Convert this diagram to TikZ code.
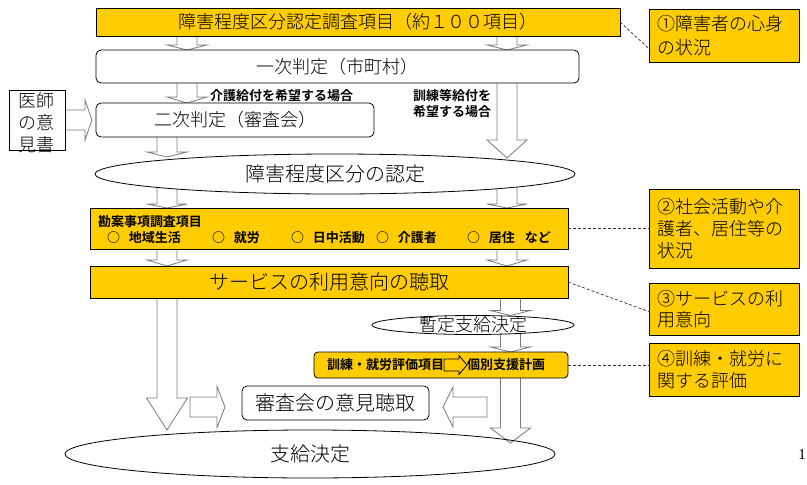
\documentclass[tikz,border=0pt]{standalone}
\usepackage{fontspec}
\setmainfont{Noto Sans CJK JP Light}[BoldFont={Noto Sans CJK JP Bold}]
\newfontfamily\pagefont{Liberation Serif}
\usetikzlibrary{calc,shapes.geometric}
\pgfdeclarelayer{bg}
\pgfsetlayers{bg,main}
\definecolor{myyellow}{HTML}{FFCC00}
\definecolor{agray}{HTML}{7A7A7A}
\begin{document}
\begin{tikzpicture}[x=1pt,y=-1pt]
\tikzset{
  every node/.style={inner sep=0pt, outer sep=0pt},
  yb/.style={draw, line width=0.8pt, fill=myyellow},
  rb/.style={draw, line width=0.8pt, fill=white, rounded corners=5pt},
  ell/.style={ellipse, draw, line width=0.8pt},
  note/.style={yb, minimum width=150pt, inner xsep=8pt, text width=134pt, align=left},
  bold13/.style={font=\bfseries\fontsize{13}{13}\selectfont},
  item/.style={bold13, anchor=west},
  barrow/.style={draw=agray, fill=white, line width=0.8pt, line join=miter},
  dashln/.style={draw=black!80, line width=0.7pt, dash pattern=on 3pt off 2pt},
  bsw/.initial=10pt, bhw/.initial=20pt,
  bdown/.style={barrow, to path={let \p1=(\tikztostart), \p2=(\tikztotarget) in
     (\x1-\pgfkeysvalueof{/tikz/bsw},\y1) -- (\x1+\pgfkeysvalueof{/tikz/bsw},\y1)
     -- (\x1+\pgfkeysvalueof{/tikz/bsw},\y2+#1pt) -- (\x1+\pgfkeysvalueof{/tikz/bhw},\y2+#1pt)
     -- (\x1,\y2) -- (\x1-\pgfkeysvalueof{/tikz/bhw},\y2+#1pt)
     -- (\x1-\pgfkeysvalueof{/tikz/bsw},\y2+#1pt) -- cycle}},
  bright/.style={barrow, to path={let \p1=(\tikztostart), \p2=(\tikztotarget) in
     (\x1,\y1+\pgfkeysvalueof{/tikz/bsw}) -- (\x2-#1pt,\y1+\pgfkeysvalueof{/tikz/bsw})
     -- (\x2-#1pt,\y1+\pgfkeysvalueof{/tikz/bhw}) -- (\x2,\y1)
     -- (\x2-#1pt,\y1-\pgfkeysvalueof{/tikz/bhw}) -- (\x2-#1pt,\y1-\pgfkeysvalueof{/tikz/bsw})
     -- (\x1,\y1-\pgfkeysvalueof{/tikz/bsw}) -- cycle}},
  bleft/.style={barrow, to path={let \p1=(\tikztostart), \p2=(\tikztotarget) in
     (\x1,\y1+\pgfkeysvalueof{/tikz/bsw}) -- (\x2+#1pt,\y1+\pgfkeysvalueof{/tikz/bsw})
     -- (\x2+#1pt,\y1+\pgfkeysvalueof{/tikz/bhw}) -- (\x2,\y1)
     -- (\x2+#1pt,\y1-\pgfkeysvalueof{/tikz/bhw}) -- (\x2+#1pt,\y1-\pgfkeysvalueof{/tikz/bsw})
     -- (\x1,\y1-\pgfkeysvalueof{/tikz/bsw}) -- cycle}},
}
\useasboundingbox (0,0) rectangle (807,485);

% ---------- nodes ----------
\node[yb, minimum width=524pt, minimum height=28pt, font=\fontsize{18}{18}\selectfont] (top) at (358,22) {障害程度区分認定調査項目（約１００項目）};
\node[note, minimum height=53pt, font=\fontsize{18}{24}\selectfont] (n1) at (724,35.5) {①障害者の心身\\の状況};
\node[rb, minimum width=483pt, minimum height=33pt, font=\fontsize{18}{18}\selectfont] (ichiji) at (337.5,66.5) {一次判定（市町村）};
\node[rb, minimum width=278pt, minimum height=34pt, font=\fontsize{18}{18}\selectfont] (niji) at (235,120) {二次判定（審査会）};
\node[draw, line width=0.8pt, fill=white, minimum width=56pt, minimum height=60pt,
  label={[font=\fontsize{18}{22}\selectfont, align=center, yshift=-2.5pt]center:医師\\の意\\見書}] (ishi) at (37,120) {};
\node[bold13, anchor=west] (lk) at (210,96) {介護給付を希望する場合};
\node[font=\bfseries\fontsize{13}{16}\selectfont, align=left] (lt) at (452,104) {訓練等給付を\\希望する場合};
\node[ell, fill=white, minimum width=480pt, minimum height=40pt, font=\fontsize{20}{20}\selectfont] (e1) at (335,174) {障害程度区分の認定};

\node[yb, minimum width=478pt, minimum height=41pt] (kanan) at (329,228.5) {};
\node[item] (kh) at (98,221.5) {勘案事項調査項目};
\node[item] (k1) at (107,238) {○\hspace{9pt}地域生活};
\node[item] (k2) at (212,238) {○\hspace{9pt}就労};
\node[item] (k3) at (291,238) {○\hspace{9pt}日中活動};
\node[item] (k4) at (376,238) {○\hspace{9pt}介護者};
\node[item] (k5) at (467,238) {○\hspace{9pt}居住\hspace{10pt}など};
\node[note, minimum height=79pt, font=\fontsize{18}{21.7}\selectfont] (n2) at (724,228.5) {②社会活動や介\\護者、居住等の\\状況};

\node[yb, minimum width=478pt, minimum height=32pt, font=\fontsize{20}{20}\selectfont] (service) at (329,282) {サービスの利用意向の聴取};
\node[note, minimum height=52pt, font=\fontsize{18}{21.5}\selectfont] (n3) at (724,309) {③サービスの利\\用意向};
\node[ell, fill=white, minimum width=202pt, minimum height=19pt,
  label={[font=\fontsize{18}{18}\selectfont]center:暫定支給決定}] (zantei) at (473,325) {};

\node[yb, rounded corners=4pt, minimum width=254pt, minimum height=26pt] (kunren) at (441,365) {};
\node[item] (kt1) at (327,365) {訓練・就労評価項目};
\node[item] (kt2) at (467,365) {個別支援計画};
\draw[bright=8, draw=black, fill=myyellow, bsw=6pt, bhw=9.5pt] (kt1.east) to (kt2.west);
\node[note, minimum height=53pt, font=\fontsize{18}{21.7}\selectfont] (n4) at (724,369.5) {④訓練・就労に\\関する評価};

\node[rb, minimum width=187pt, minimum height=34pt, font=\fontsize{20}{20}\selectfont] (shinsa) at (335.5,403) {審査会の意見聴取};
\node[ell, minimum width=490pt, minimum height=48pt, font=\fontsize{20}{20}\selectfont] (e2) at (310,454) {支給決定};
\node[font=\pagefont\fontsize{15}{15}\selectfont] (pg) at (802,455) {1};

% ---------- dashed leaders ----------
\draw[dashln] (top.east) -- ($(n1.south west)!0.25!(n1.north west)$);
\draw[dashln] (kanan.east) -- (kanan.east -| n2.west);
\draw[dashln] (service.east) -- ($(n3.north west)!0.55!(n3.south west)$);
\draw[dashln] (kunren.east) -- (kunren.east -| n4.west);

% ---------- block arrows (behind) ----------
\coordinate (cA) at (187,0);
\coordinate (cB) at (507,0);
\coordinate (cC) at (167,0);
\coordinate (cD) at (510.5,0);
\coordinate (bl) at (190,407);
\coordinate (br) at (487,407);
\begin{pgfonlayer}{bg}
\fill[white] (0,0) rectangle (807,485);
\draw[bdown=5] (cA |- top.center) to (cA |- ichiji.north);
\draw[bdown=5] (cB |- top.center) to (cB |- ichiji.north);
\draw[bdown=6] (cA |- ichiji.center) to (cA |- niji.north);
\draw[bdown=18] (cB |- ichiji.center) to ([yshift=-4pt]cB |- e1.north);
\draw[bright=7] (ishi.east) to ([xshift=-4pt]niji.west);
\draw[bdown=5] (cC |- niji.center) to ([yshift=-3pt]cC |- e1.north);
\draw[bdown=4] (cC |- e1.center) to (cC |- kanan.north);
\draw[bdown=4] (cB |- e1.center) to (cB |- kanan.north);
\draw[bdown=6] (cC |- kanan.center) to (cC |- service.north);
\draw[bdown=6] (cB |- kanan.center) to (cB |- service.north);
\draw[bdown=32, bhw=20.5pt] (cC |- service.center) to (cC |- e2.north);
\draw[bdown=5] (cD |- service.center) to (cD |- zantei.north);
\draw[bdown=5] (cD |- zantei.center) to (cD |- kunren.north);
\draw[bdown=15] (cD |- kunren.center) to ([yshift=-13pt]cD |- e2.north);
\draw[bright=8, bhw=20.5pt] (bl) to ([xshift=-17pt]shinsa.west);
\draw[bleft=10] (br) to ([xshift=14pt]shinsa.east);
\end{pgfonlayer}
\end{tikzpicture}
\end{document}
